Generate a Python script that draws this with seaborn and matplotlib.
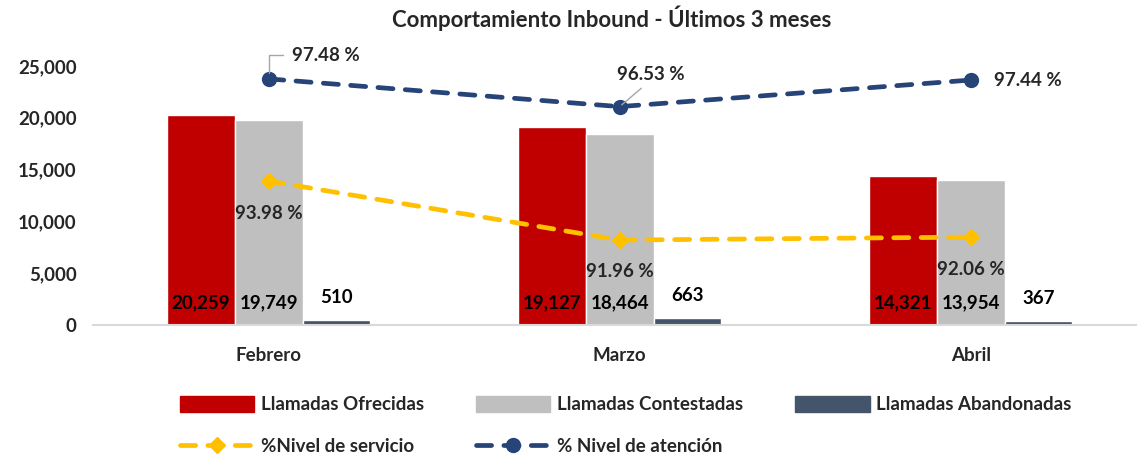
import seaborn as sns
import matplotlib.pyplot as plt
import pandas as pd
from matplotlib.lines import Line2D
from matplotlib.patches import Patch

# Data
meses = ['Febrero', 'Marzo', 'Abril']
ofrecidas = [20259, 19127, 14321]
contestadas = [19749, 18464, 13954]
abandonadas = [510, 663, 367]
nivel_servicio = [93.98, 91.96, 92.06]
nivel_atencion = [97.48, 96.53, 97.44]

series = ['Llamadas Ofrecidas', 'Llamadas Contestadas', 'Llamadas Abandonadas']
colores = ['#C00000', '#BFBFBF', '#44546A']
AMARILLO = '#FFC000'
AZUL = '#264478'
DASH = (0, (3.2, 2.6))


def build_frame():
    # long format for seaborn
    df = pd.DataFrame({'mes': meses * 3,
                       'serie': [s for s in series for _ in meses],
                       'valor': ofrecidas + contestadas + abandonadas})
    return df


def plot_chart(df):
    sns.set_style('white')
    plt.rcParams['font.family'] = ['Lato', 'DejaVu Sans']
    plt.rcParams['font.weight'] = 'bold'

    fig = plt.figure(figsize=(11.37, 4.58), dpi=100)
    ax = fig.add_axes([0.082, 0.2904, 0.926, 0.6113])

    sns.barplot(data=df, x='mes', y='valor', hue='serie', hue_order=series,
                palette=colores, width=0.58, saturation=1, ax=ax, legend=False)

    # bar value labels
    for i, cont in enumerate(ax.containers):
        for bar in cont:
            cx = bar.get_x() + bar.get_width() / 2
            base = bar.get_height() if i == 2 else 0
            ax.annotate(f'{int(round(bar.get_height())):,}', (cx, base),
                        xytext=(0, 16), textcoords='offset points',
                        ha='center', va='center', fontsize=13.5, fontweight='bold',
                        color='black')

    ax.set_ylim(0, 27000)
    ax.set_xlim(-0.5, 2.5)
    ax.set_yticks(range(0, 25001, 5000))
    ax.set_yticklabels([f'{v:,}' for v in range(0, 25001, 5000)])
    ax.tick_params(axis='both', length=0, labelsize=13.5)
    ax.tick_params(axis='x', pad=16)
    ax.tick_params(axis='y', pad=12)
    for lbl in ax.get_xticklabels() + ax.get_yticklabels():
        lbl.set_fontweight('bold')
    ax.set_xlabel('')
    ax.set_ylabel('')
    for side in ['left', 'right', 'top']:
        ax.spines[side].set_visible(False)
    ax.spines['bottom'].set_color('#D9D9D9')
    ax.spines['bottom'].set_linewidth(1.5)

    # percentage lines on hidden secondary axis
    ax2 = ax.twinx()
    xs = list(range(len(meses)))
    ax2.plot(xs, nivel_servicio, color=AMARILLO, linestyle=DASH, linewidth=3.4,
             dash_capstyle='round', marker='D', markersize=8, zorder=3)
    ax2.plot(xs, nivel_atencion, color=AZUL, linestyle=DASH, linewidth=3.4,
             dash_capstyle='round', marker='o', markersize=10, zorder=3)
    ax2.set_ylim(89.05, 98.64)
    ax2.axis('off')

    for x, v in zip(xs, nivel_servicio):
        ax2.annotate(f'{v:.2f} %', (x, v), xytext=(0, -23), textcoords='offset points',
                     ha='center', va='center', fontsize=13.5, fontweight='bold')

    ax2.annotate(f'{nivel_atencion[0]:.2f} %', (0, nivel_atencion[0]), xytext=(17, 17),
                 textcoords='offset points', ha='left', va='center', fontsize=13.5,
                 fontweight='bold',
                 arrowprops=dict(arrowstyle='-', color='#A6A6A6', lw=1,
                                 connectionstyle='angle,angleA=0,angleB=90,rad=0',
                                 relpos=(0, 0.5), shrinkA=4, shrinkB=4))
    ax2.annotate(f'{nivel_atencion[1]:.2f} %', (1, nivel_atencion[1]), xytext=(-2, 23),
                 textcoords='offset points', ha='left', va='center', fontsize=13.5,
                 fontweight='bold',
                 arrowprops=dict(arrowstyle='-', color='#A6A6A6', lw=1,
                                 relpos=(0.45, 0), shrinkA=2, shrinkB=2))
    ax2.annotate(f'{nivel_atencion[2]:.2f} %', (2, nivel_atencion[2]), xytext=(17, 0),
                 textcoords='offset points', ha='left', va='center', fontsize=13.5,
                 fontweight='bold')

    fig.text(0.538, 0.96, 'Comportamiento Inbound - Últimos 3 meses', ha='center',
             va='center', fontsize=16, fontweight='bold')

    # legend, ordered column-wise so rows read like the original
    h = [Patch(color=c) for c in colores]
    l1 = Line2D([], [], color=AMARILLO, linestyle=DASH, linewidth=3.4,
                dash_capstyle='round', marker='D', markersize=8)
    l2 = Line2D([], [], color=AZUL, linestyle=DASH, linewidth=3.4,
                dash_capstyle='round', marker='o', markersize=10)
    handles = [h[0], l1, h[1], l2, h[2]]
    labels = [series[0], '%Nivel de servicio', series[1], '% Nivel de atención', series[2]]
    fig.legend(handles, labels, loc='center', bbox_to_anchor=(0.5503, 0.071), ncol=3,
               frameon=False, fontsize=13.5, handlelength=3.95, handleheight=0.9,
               handletextpad=0.35, columnspacing=2.8, labelspacing=1.3)

    fig.savefig('out.png', dpi=100)


if __name__ == '__main__':
    plot_chart(build_frame())
